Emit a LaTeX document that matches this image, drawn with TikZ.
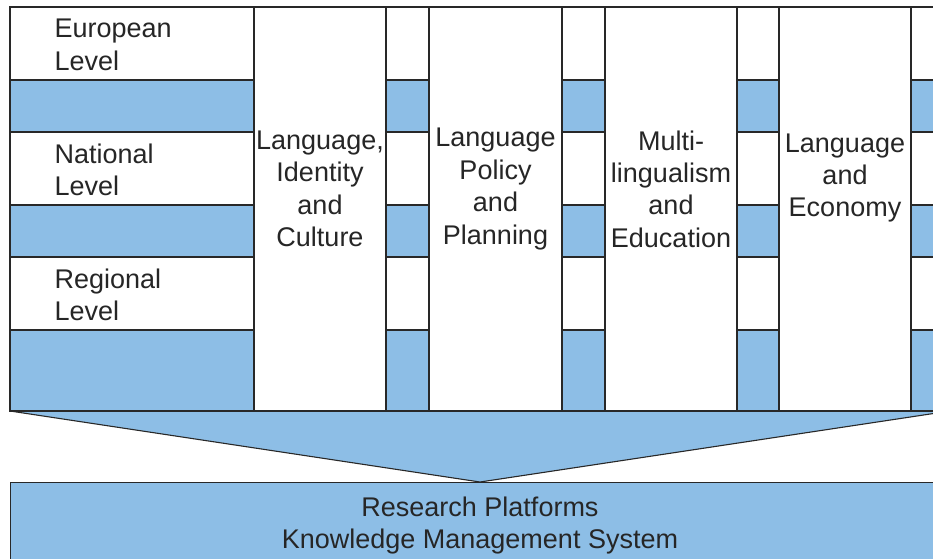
\documentclass[tikz,border=0pt]{standalone}
\usepackage{fontspec}
\setmainfont{Liberation Sans}
\definecolor{cellblue}{RGB}{141,190,230}
\definecolor{edgecol}{RGB}{40,40,40}
\begin{document}
\begin{tikzpicture}[x=1pt,y=-1pt,line width=1.1pt,
  cellw/.style={draw=edgecol,fill=white},
  cellb/.style={draw=edgecol,fill=cellblue},
  lbl/.style={font=\fontsize{27}{32.4}\selectfont,text=black!85,inner sep=0pt},
]
\useasboundingbox (0,0) rectangle (933,558);
\clip (0,0) rectangle (933,558);

% funnel
\coordinate (fl) at (10,411);
\coordinate (fr) at (950,411);
\coordinate (apex) at (480,482);
\filldraw[cellblue,draw=edgecol] (fl) -- (apex) -- (fr) -- cycle;

% bottom box
\node[cellb,rectangle,anchor=north west,minimum width=940pt,minimum height=120pt,inner sep=0pt] (base) at (10,482) {};
\node[lbl,align=center] (basetxt) at (480,525.5) {Research Platforms\\Knowledge Management System};

% left block and gap columns: rows
\foreach \xa/\xb/\nm in {10/254/L,386/429/G1,562/605/G2,737/779/G3,911/953/G4}{
  \draw[cellw] (\xa,7) rectangle (\xb,80);
  \draw[cellb] (\xa,80) rectangle (\xb,132);
  \draw[cellw] (\xa,132) rectangle (\xb,205);
  \draw[cellb] (\xa,205) rectangle (\xb,257);
  \draw[cellw] (\xa,257) rectangle (\xb,330);
  \draw[cellb] (\xa,330) rectangle (\xb,411);
}

% level labels
\node[lbl,align=left,anchor=west] (eu) at (54,45) {European\\Level};
\node[lbl,align=left,anchor=west] (na) at (54,170) {National\\Level};
\node[lbl,align=left,anchor=west] (re) at (54,295) {Regional\\Level};

% theme columns
\foreach \xa/\xb/\nm in {254/386/c1,429/562/c2,605/737/c3,779/911/c4}{
  \draw[cellw] (\xa,7) rectangle (\xb,411);
}
\node[lbl,align=center] (t1) at (320,189) {Language,\\Identity\\and\\Culture};
\node[lbl,align=center] (t2) at (495.5,189) {Language\\Policy\\and\\Planning};
\node[lbl,align=center] (t3) at (671,189) {Multi-\\lingualism\\and\\Education};
\node[lbl,align=center] (t4) at (845,178) {Language\\and\\Economy};

% top and bottom rules
\draw[edgecol,line width=1.5pt] (10,7) -- (953,7);
\draw[edgecol,line width=1.6pt] (fl) -- (fr);
\end{tikzpicture}
\end{document}
